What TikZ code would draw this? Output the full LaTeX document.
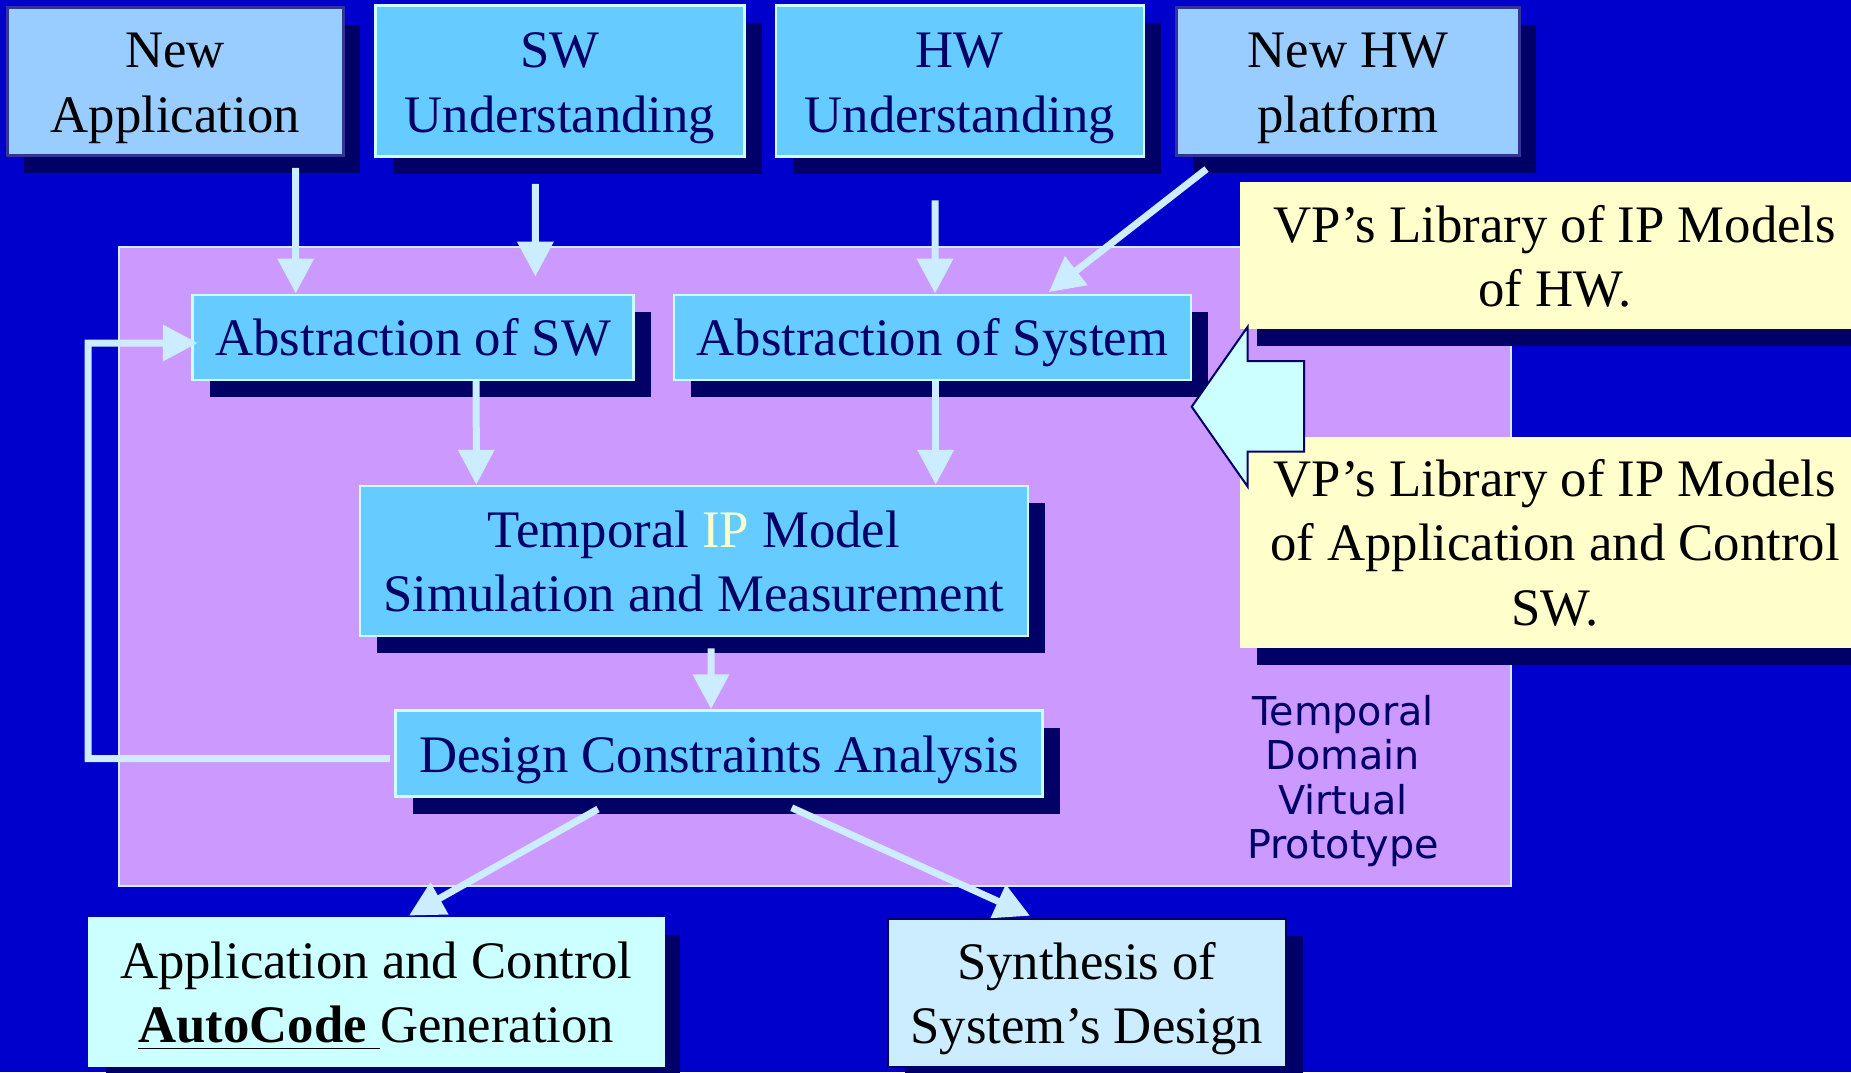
\documentclass[tikz,border=0pt]{standalone}
\usepackage{fontspec}
\setmainfont{Liberation Serif}
\newfontfamily\vpsans{DejaVu Sans}
\usetikzlibrary{calc,arrows.meta,shadows}
\definecolor{myblue}{RGB}{0,0,204}
\definecolor{mynavy}{RGB}{0,0,102}
\definecolor{mypurple}{RGB}{204,153,255}
\definecolor{mysky}{RGB}{102,204,255}
\definecolor{mypale}{RGB}{153,204,255}
\definecolor{myice}{RGB}{204,236,255}
\definecolor{mycyan}{RGB}{204,255,255}
\definecolor{mycream}{RGB}{255,255,204}
\definecolor{myslate}{RGB}{51,51,153}
\newcommand{\vpstrut}{\rule[-3.9pt]{0pt}{18.4pt}}

\begin{document}
\begin{tikzpicture}[
  x=0.1mm,
  y=-0.1mm,
  mybox/.style 2 args={
    draw=mycyan,
    line width=0.25mm,
    fill=mysky,
    text=mynavy,
    font=\fontsize{15pt}{18.4pt}\selectfont,
    align=center,
    inner sep=0pt,
    minimum width=#1,
    minimum height=#2,
    drop shadow={shadow xshift=1.7mm, shadow yshift=-1.7mm, fill=mynavy, opacity=1}
  },
  mypalebox/.style={
    fill=mypale,
    draw=myslate,
    text=black
  },
  mynote/.style={
    fill=mycream,
    draw=none,
    text=black
  },
  mylabel/.style={
    text=mynavy,
    align=center,
    inner sep=0pt,
    font=\vpsans\fontsize{11.3pt}{12.6pt}\selectfont
  },
  myarrow/.style={
    draw=myice,
    line width=0.7mm,
    -{Triangle[length=3.5mm,width=3.5mm]}
  }
]
\useasboundingbox (0,0) rectangle (1851,1072);
\clip (0,0) rectangle (1851,1072);
\fill[myblue] (0,0) rectangle (1851,1072);

\draw[draw=myice, fill=mypurple, line width=0.2mm] (119.3,246.7) rectangle (1511,886);
\node[mylabel] (tdvp) at (1343,781) {Temporal\\Domain\\Virtual\\Prototype};

\node[mybox={33.6mm}{14.8mm}, mypalebox] (newapp) at (175.3,81.5)
  {\vpstrut New\\\vpstrut Application};
\node[mybox={36.9mm}{15.1mm}] (swund) at (560.1,81.2)
  {\vpstrut SW\\\vpstrut Understanding};
\node[mybox={36.8mm}{15.1mm}] (hwund) at (959.8,81.2)
  {\vpstrut HW\\\vpstrut Understanding};
\node[mybox={34.3mm}{14.8mm}, mypalebox] (newhw) at (1347.8,81.5)
  {\vpstrut New HW\\\vpstrut platform};

\node[mybox={44.1mm}{8.5mm}] (abssw) at (413.2,337.3) {\vpstrut Abstraction of SW};
\node[mybox={51.7mm}{8.5mm}] (abssys) at (932.4,337.3) {\vpstrut Abstraction of System};
\node[mybox={66.8mm}{15mm}] (temporal) at (693.8,561)
  {\vpstrut Temporal {\color{mycream}IP} Model\\\vpstrut Simulation and Measurement};
\node[mybox={64.7mm}{8.6mm}] (dca) at (719.2,753.5) {\vpstrut Design Constraints Analysis};

\node[mybox={57.4mm}{14.8mm}, fill=mycyan, draw=mycyan, text=black] (autocode) at (376.3,991.8)
  {\vpstrut Application and Control\\\vpstrut\underline{\textbf{AutoCode}\ }Generation};
\node[mybox={39.8mm}{14.8mm}, fill=myice, draw=mynavy, text=black] (synth) at (1086.9,993)
  {\vpstrut Synthesis of\\\vpstrut System’s Design};

\node[mybox={63mm}{14.7mm}, mynote] (libhw) at (1555,255.8)
  {\vpstrut VP’s Library of IP Models\\\vpstrut of HW.};
\node[mybox={63mm}{21.1mm}, mynote] (libsw) at (1555,542.3)
  {\vpstrut VP’s Library of IP Models\\\vpstrut of Application and Control\\\vpstrut SW.};

\draw[fill=mycyan, draw=mynavy, line width=0.2mm]
  (1191.7,406.7) -- (1247.7,326.7) -- (1247.7,361) -- (1304,361)
  -- (1304,451.7) -- (1247.7,451.7) -- (1247.7,486.7) -- cycle;

\coordinate (loopcorner) at (88,343);

\draw[myarrow] ($(newapp.south)+(120.4,11)$) -- ($(abssw.north)+(-117.5,0)$);
\draw[myarrow] ($(swund.south)+(-24.7,26)$) -- ($(abssw.north)+(122.2,-17)$);
\draw[myarrow] ($(hwund.south)+(-24.8,42.3)$) -- ($(abssys.north)+(2.6,0)$);
\draw[myarrow] ($(newhw.south)+(-141.3,12.3)$) -- ($(abssys.north)+(116.3,-1.4)$);
\draw[myarrow] ($(abssw.south)+(63,0)$) -- ($(temporal.north)+(-217.5,0)$);
\draw[myarrow] ($(abssys.south)+(3.3,0)$) -- ($(temporal.north)+(241.9,0)$);
\draw[myarrow] ($(temporal.south)+(17.2,11)$) -- ($(dca.north)+(-8.2,0)$);
\draw[myarrow] ($(dca.west)+(-4.5,5)$) -| (loopcorner) -- ($(abssw.west)+(6.3,5.7)$);
\draw[myarrow] ($(dca.south)+(-121.2,11.3)$) -- ($(autocode.north)+(32.7,-1)$);
\draw[myarrow] ($(dca.south)+(72.5,10)$) -- ($(synth.north)+(-56.9,-2)$);

\end{tikzpicture}
\end{document}
